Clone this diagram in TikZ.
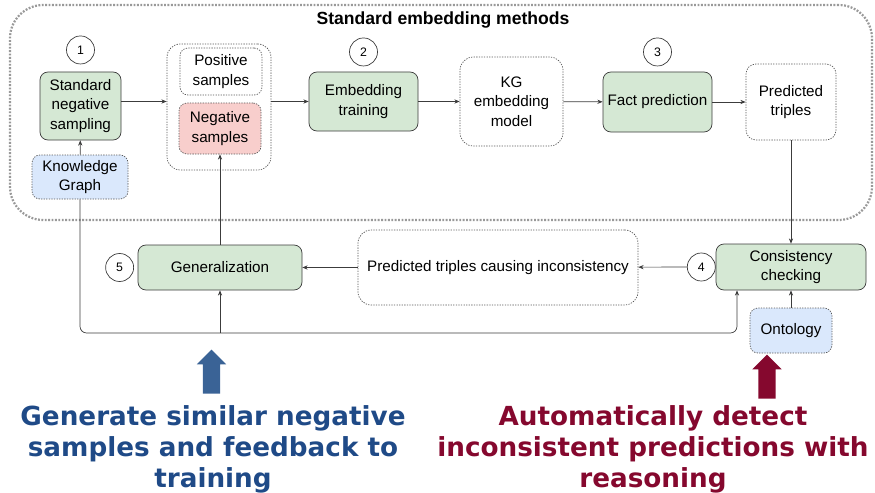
\documentclass[tikz,border=0pt]{standalone}
\usepackage{fontspec}
\setmainfont{Liberation Sans}
\newfontfamily\calloutfont{DejaVu Sans}
\usepackage{tikz}
\usetikzlibrary{arrows.meta, positioning, shapes.arrows}
\definecolor{StepGreen}{HTML}{D5E8D4}
\definecolor{DataBlue}{HTML}{DAE8FC}
\definecolor{NegRed}{HTML}{F8CECC}
\definecolor{FrameGray}{HTML}{999999}
\definecolor{LineGray}{HTML}{3C3C3C}
\definecolor{CallBlue}{HTML}{1F4A87}
\definecolor{ArrowBlue}{HTML}{3A6396}
\definecolor{CallRed}{HTML}{85082E}

\begin{document}
\begin{tikzpicture}[
    x=0.3mm, y=-0.3mm,
    every node/.style={font=\fontsize{13}{16.5}\selectfont, align=center, inner sep=1pt},
    stepbox/.style={rectangle, rounded corners=2.4mm, draw=LineGray, fill=StepGreen, line width=0.6pt},
    databox/.style={rectangle, rounded corners=2.4mm, draw=LineGray!85, line width=0.6pt,
                    dash pattern=on 1.1pt off 1.1pt},
    num/.style={circle, draw=LineGray, line width=0.6pt, minimum size=8.4mm, inner sep=0pt,
                font=\fontsize{10.5}{12}\selectfont},
    flow/.style={-{Stealth[length=4.5pt, width=3.6pt]}, draw=LineGray, line width=0.6pt},
    bigarrow/.style={single arrow, shape border rotate=90, inner sep=2.55mm, minimum height=13.2mm,
                     single arrow head extend=1.8mm, single arrow tip angle=90},
    callout/.style={font=\calloutfont\bfseries\fontsize{22.4}{26.5}\selectfont, align=center}
]
    \useasboundingbox (0,0) rectangle (875,493);

    % Standard embedding methods frame
    \node[draw=FrameGray, line width=1.9pt, dash pattern=on 1.6pt off 1.3pt, rounded corners=10mm,
          minimum width=258.6mm, minimum height=64.5mm] (frame) at (441,112.5) {};
    \node[font=\bfseries\fontsize{15}{18}\selectfont] (title) at (443,19.5) {Standard embedding methods};

    % Upper row
    \node[stepbox, minimum width=24.3mm, minimum height=20.4mm] (sns) at (80.5,106) {Standard\\negative\\sampling};
    \node[databox, fill=DataBlue, minimum width=28.8mm, minimum height=13.2mm] (kg) at (80,177) {Knowledge\\Graph};
    \node[databox, rounded corners=4mm, minimum width=31.2mm, minimum height=37.8mm] (samples) at (219,107) {};
    \node[databox, fill=white, minimum width=24.6mm, minimum height=14.1mm] (pos) at (221,71.5) {Positive\\samples};
    \node[databox, fill=NegRed, minimum width=24.6mm, minimum height=15.3mm] (neg) at (220,128.5) {Negative\\samples};
    \node[stepbox, minimum width=32.7mm, minimum height=17.7mm] (train) at (363.5,101.5) {Embedding\\training};
    \node[databox, rounded corners=4mm, minimum width=30.9mm, minimum height=26.7mm] (model) at (511.5,101.5) {KG\\embedding\\model};
    \node[stepbox, minimum width=32.7mm, minimum height=18mm] (predict) at (657.5,102) {Fact prediction};
    \node[databox, rounded corners=3mm, minimum width=27mm, minimum height=22.8mm] (triples) at (791,102) {Predicted\\triples};

    % Lower row
    \node[stepbox, minimum width=45mm, minimum height=13.8mm] (check) at (791,267) {Consistency\\checking};
    \node[databox, rounded corners=4mm, minimum width=84mm, minimum height=22.5mm] (incons) at (498,267.5) {Predicted triples causing inconsistency};
    \node[stepbox, minimum width=49.2mm, minimum height=13.5mm] (general) at (220,267.5) {Generalization};
    \node[databox, fill=DataBlue, minimum width=24.6mm, minimum height=13.5mm] (onto) at (791,330.5) {Ontology};

    % Step numbers
    \node[num, above=2.2mm of sns] (n1) {1};
    \node[num, above=1.6mm of train] (n2) {2};
    \node[num, above=1.6mm of predict] (n3) {3};
    \node[num, left=0mm of check] (n4) {4};
    \node[num, left=1.1mm of general] (n5) {5};

    % Flow
    \draw[flow] (kg) -- (sns);
    \draw[flow] (sns.east |- train) -- (samples.west |- train);
    \draw[flow] (samples.east |- train) -- (train);
    \draw[flow] (train) -- (model);
    \draw[flow] (model) -- (predict);
    \draw[flow] (predict) -- (triples);
    \draw[flow] (triples) -- (check);
    \draw[flow] (n4) -- (incons);
    \draw[flow] (incons) -- (general);
    \draw[flow] (general) -- (neg);
    \draw[flow] (onto) -- (check);
    \coordinate (loop) at (737,333);
    \draw[flow, rounded corners=2mm] (kg) |- (loop) -- (check.south -| loop);
    \draw[flow] (general |- loop) -- (general);

    % Callouts
    \node[bigarrow, fill=ArrowBlue] (upblue) at (211.5,376) {};
    \node[bigarrow, fill=CallRed] (upred) at (767,381) {};
    \node[callout, text=CallBlue] (gentext) at (213,449) {Generate similar negative\\samples and feedback to\\training};
    \node[callout, text=CallRed] (dettext) at (653,449) {Automatically detect\\inconsistent predictions with\\reasoning};
\end{tikzpicture}
\end{document}
